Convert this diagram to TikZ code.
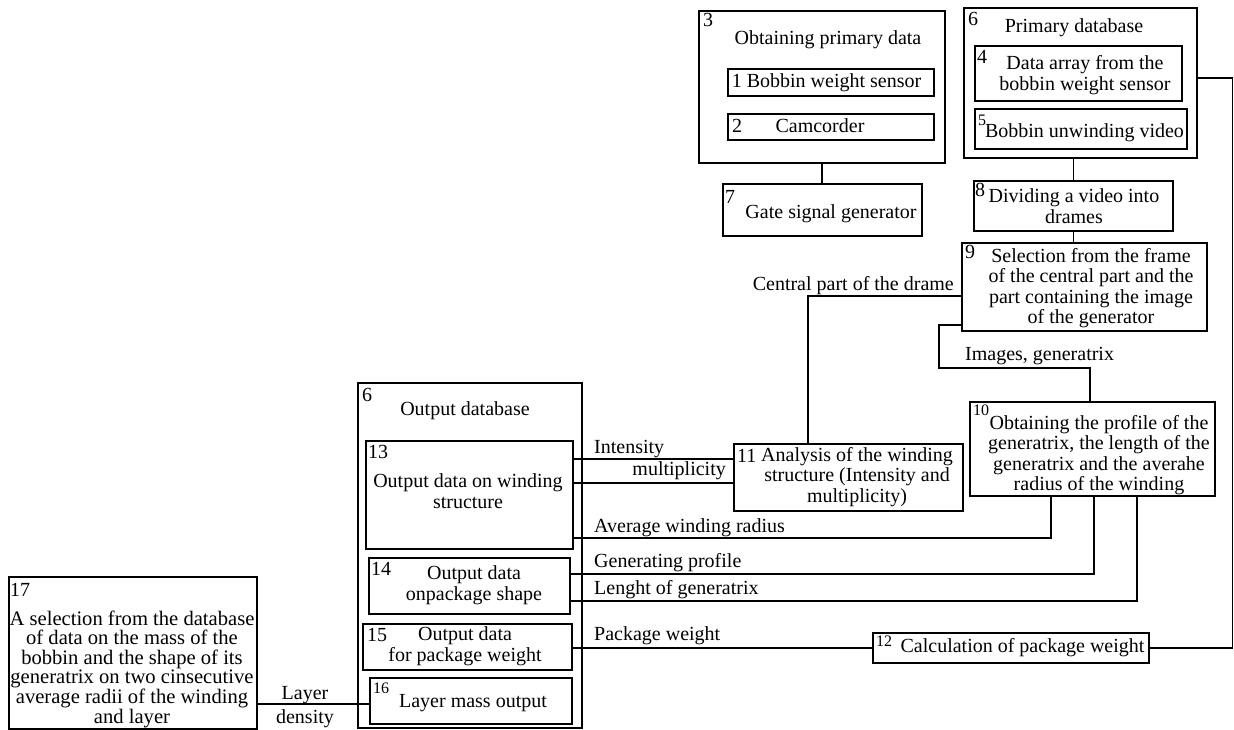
\documentclass[tikz,border=0pt]{standalone}
\usepackage{fontspec}
\setmainfont{Liberation Serif}
\begin{document}
\begin{tikzpicture}[x=1pt,y=-1pt,
  box/.style={draw, line width=1.9pt, inner sep=0pt, anchor=north west},
  txt/.style={font=\fontsize{20}{20.5}\selectfont, align=center, inner sep=0pt},
  num/.style={font=\fontsize{20}{20}\selectfont, inner sep=0pt, anchor=north west},
  snum/.style={font=\fontsize{16}{16}\selectfont, inner sep=0pt, anchor=north west},
  lbl/.style={font=\fontsize{20}{20}\selectfont, inner sep=0pt},
  wire/.style={line width=1.9pt}]
\useasboundingbox (0,0) rectangle (1234,729);

% boxes
\node[box, minimum width=246pt, minimum height=152pt] (b3) at (698,10) {};
\node[box, minimum width=206pt, minimum height=27pt] (b1) at (727,68) {};
\node[box, minimum width=206pt, minimum height=26pt] (b2) at (727,113) {};
\node[box, minimum width=199pt, minimum height=52pt] (b7) at (722,183) {};
\node[box, minimum width=233pt, minimum height=150pt] (b6p) at (963,7) {};
\node[box, minimum width=207pt, minimum height=55pt] (b4) at (974,45) {};
\node[box, minimum width=212pt, minimum height=40pt] (b5) at (974,108) {};
\node[box, minimum width=199pt, minimum height=50pt] (b8) at (973,180) {};
\node[box, minimum width=245pt, minimum height=88pt] (b9) at (961,242) {};
\node[box, minimum width=245pt, minimum height=94pt] (b10) at (969,401) {};
\node[box, minimum width=229pt, minimum height=67pt] (b11) at (733,443) {};
\node[box, minimum width=276pt, minimum height=30pt] (b12) at (872,632) {};
\node[box, minimum width=224pt, minimum height=345pt] (bout) at (357,382) {};
\node[box, minimum width=207pt, minimum height=108pt] (b13) at (365,440) {};
\node[box, minimum width=201pt, minimum height=56pt] (b14) at (368,557) {};
\node[box, minimum width=209pt, minimum height=46pt] (b15) at (362,623) {};
\node[box, minimum width=202pt, minimum height=46pt] (b16) at (369,677) {};
\node[box, minimum width=248pt, minimum height=152pt] (b17) at (8,576) {};

% numbers
\node[num] (n3) at (703,13) {3};
\node[num] (n6p) at (968,12) {6};
\node[num] (n4) at (977,50) {4};
\node[snum] (n5) at (978,115) {5};
\node[num] (n2) at (732,119) {2};
\node[num] (n7) at (725,190) {7};
\node[num] (n8) at (975,183) {8};
\node[num] (n9) at (965,245) {9};
\node[snum] (n10) at (973,405) {10};
\node[num] (n11) at (737,449) {11};
\node[snum] (n12) at (876,636) {12};
\node[num] (n6o) at (362,388) {6};
\node[num] (n13) at (368,445) {13};
\node[num] (n14) at (371,562) {14};
\node[num] (n15) at (367,628) {15};
\node[snum] (n16) at (373,683) {16};
\node[num] (n17) at (10,583) {17};

% titles and box texts
\node[txt, anchor=base] (tt3) at (828,44) {Obtaining primary data};
\node[txt, anchor=base] (tt6p) at (1074,32) {Primary database};
\node[txt, anchor=base] (tto) at (465,415) {Output database};
\node[txt, anchor=base] (t1) at (826.5,87) {1 Bobbin weight sensor};
\node[txt, anchor=base] (t2) at (820,132) {Camcorder};
\node[txt, anchor=base] (t7) at (831,218) {Gate signal generator};
\node[txt] (t4) at (1085,75) {Data array from the\\bobbin weight sensor};
\node[txt, anchor=base] (t5) at (1084.5,137) {Bobbin unwinding video};
\node[txt] (t8) at (1074,206) {Dividing a video into\\drames};
\node[txt] (t9) at (1091,288) {Selection from the frame\\of the central part and the\\part containing the image\\of the generator};
\node[txt] (t10) at (1099,455) {Obtaining the profile of the\\generatrix, the length of the\\generatrix and the averahe\\radius of the winding};
\node[txt] (t11) at (857,477) {Analysis of the winding\\structure (Intensity and\\multiplicity)};
\node[txt, anchor=base] (t12) at (1022.5,652) {Calculation of package weight};
\node[txt] (t13) at (468,491) {Output data on winding\\structure};
\node[txt] (t14) at (474,585) {Output data\\onpackage shape};
\node[txt] (t15) at (465,646) {Output data\\for package weight};
\node[txt, anchor=base] (t16) at (473,707) {Layer mass output};
\node[txt, font=\fontsize{20.6}{19.6}\selectfont] (t17) at (132,669) {A selection from the database\\of data on the mass of the\\bobbin and the shape of its\\generatrix on two cinsecutive\\average radii of the winding\\and layer};

% connectors
\draw[wire] (b3.south) -- (b3.south |- b7.north);
\draw[wire] (b8.north) -- (b8.north |- b6p.south);
\draw[wire] (b8.south) -- (b8.south |- b9.north);
\coordinate (c9a) at (808,296);
\draw[wire] (b9.west |- c9a) -- (c9a) -- (c9a |- b11.north);
\coordinate (c9b) at (939,325);
\coordinate (c9c) at (1090,368);
\draw[wire] (b9.west |- c9b) -- (c9b) -- (c9b |- c9c) -- (c9c) -- (c9c |- b10.north);
\coordinate (y1) at (0,459);
\coordinate (y2) at (0,483);
\draw[wire] (b13.east |- y1) -- (b11.west |- y1);
\draw[wire] (b13.east |- y2) -- (b11.west |- y2);
\coordinate (r1) at (1051,538);
\draw[wire] (b13.east |- r1) -- (r1) -- (r1 |- b10.south);
\coordinate (r2) at (1094,574);
\draw[wire] (b14.east |- r2) -- (r2) -- (r2 |- b10.south);
\coordinate (r3) at (1137,601);
\draw[wire] (b14.east |- r3) -- (r3) -- (r3 |- b10.south);
\draw[wire] (b15.east |- b12.west) -- (b12.west);
\coordinate (r4) at (1232.5,78);
\draw[wire] (b12.east) -- (r4 |- b12.east) -- (r4) -- (b6p.east |- r4);
\coordinate (y3) at (0,704);
\draw[wire] (b17.east |- y3) -- (b16.west |- y3);

% connector labels
\node[lbl, anchor=base east] (l1) at (954,290) {Central part of the drame};
\node[lbl, anchor=base west] (l2) at (965,360) {Images, generatrix};
\node[lbl, anchor=base west] (l3) at (594,453) {Intensity};
\node[lbl, anchor=base east] (l4) at (726,475) {multiplicity};
\node[lbl, anchor=base west] (l5) at (594,532) {Average winding radius};
\node[lbl, anchor=base west] (l6) at (594,567) {Generating profile};
\node[lbl, anchor=base west] (l7) at (594,594) {Lenght of generatrix};
\node[lbl, anchor=base west] (l8) at (594,640) {Package weight};
\node[lbl, anchor=base] (l9) at (305,699) {Layer};
\node[lbl, anchor=base] (l10) at (305,723) {density};
\end{tikzpicture}
\end{document}
